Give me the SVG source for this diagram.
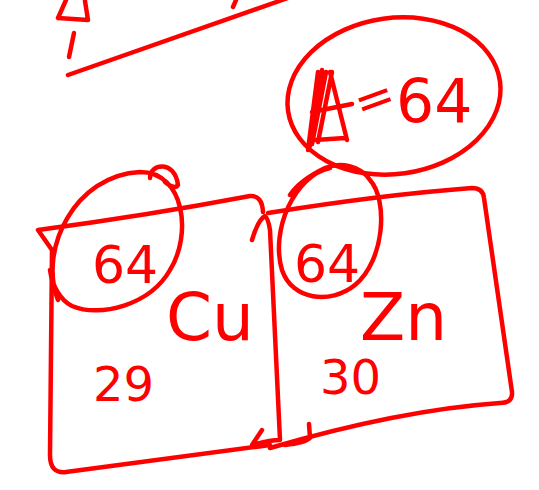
<svg xmlns="http://www.w3.org/2000/svg" width="539" height="490" viewBox="0 0 539 490">
<style>
.s{fill:none;stroke:#ff0000;stroke-width:4.5;stroke-linecap:round;stroke-linejoin:round}
.t{fill:#ff0000;font-family:"DejaVu Sans","Liberation Sans",sans-serif;font-weight:normal}
</style>
<rect width="539" height="490" fill="#fff"/>
<g id="top">
<path class="s" d="M66,0 L58,18 L88,20 L85,1"/>
<path class="s" d="M74,33 L69,57"/>
<path class="s" d="M236,0 L233,7"/>
<path class="s" d="M68,75 L288,-2"/>
</g>
<g id="mass">
<ellipse class="s" cx="394" cy="96" rx="107" ry="78" transform="rotate(-8 394 96)"/>
<path class="s" d="M318,72 L308,150 M322,70 L310,146 M326,72 L312,144 M332,72 L318,142 M330,72 L347,140 M315,140 L345,138 M312,112 L352,104" stroke-width="5.5"/>
<text class="t" x="356" y="116" font-size="48" transform="rotate(-20 372 104)">=</text>
<text class="t" x="396" y="122" font-size="60">64</text>
</g>
<g id="cu">
<path class="s" d="M38,230 L52,250 L50,455 Q50,474 66,472 L270,445 M38,230 Q150,215 250,196 Q262,195 263,212 M252,240 Q258,220 265,216 Q268,218 270,230 L280,440 Q270,440 252,445 L262,430"/>
<path class="s" d="M58,300 C38,250 75,175 140,172 C185,172 192,235 170,270 C150,305 100,318 72,306 C60,300 52,285 50,270 M150,178 C150,163 175,160 178,185 Q175,190 165,182"/>
<text class="t" x="92" y="283" font-size="52">64</text>
<text class="t" x="166" y="340" font-size="66">Cu</text>
<text class="t" x="93" y="401" font-size="48">29</text>
</g>
<g id="zn">
<path class="s" d="M268,213 Q380,195 472,188 Q483,188 484,198 L512,392 Q513,403 500,403 Q400,410 270,448 M309,424 L310,438 Q305,443 285,445"/>
<path class="s" d="M330,168 C295,175 270,230 282,270 C292,300 330,305 355,285 C385,260 388,200 370,180 C360,165 340,162 325,168 Q300,180 290,195"/>
<text class="t" x="294" y="282" font-size="52">64</text>
<text class="t" x="360" y="340" font-size="66">Zn</text>
<text class="t" x="320" y="394" font-size="48">30</text>
</g>
</svg>
